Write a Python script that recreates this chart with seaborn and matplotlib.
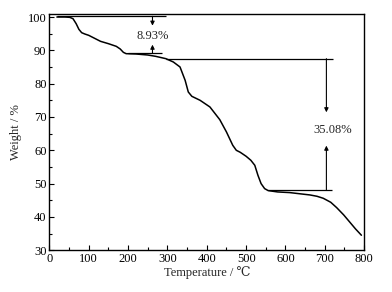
import matplotlib
matplotlib.use("Agg")
import matplotlib.pyplot as plt
import seaborn as sns
import pandas as pd
from matplotlib.ticker import MultipleLocator

temperature = [19, 40, 52, 60, 68, 75, 82, 90, 100, 115, 130, 150, 170, 180, 188, 195,
               220, 250, 270, 296, 315, 332, 345, 353, 362, 383, 408, 433, 450, 466,
               475, 485, 500, 512, 522, 530, 538, 547, 556, 580, 611, 640, 662, 680,
               696, 715, 730, 748, 763, 778, 793]
weight = [100, 100, 99.9, 99.5, 98, 96.3, 95.3, 94.9, 94.5, 93.6, 92.7, 92.0, 91.2, 90.4,
          89.4, 89.0, 88.9, 88.6, 88.2, 87.5, 86.5, 85.0, 81.0, 77.5, 76.2, 75.0, 73.0,
          69.2, 65.5, 61.5, 60.0, 59.4, 58.2, 57.0, 55.5, 52.5, 50.0, 48.5, 47.9, 47.5,
          47.3, 46.9, 46.6, 46.2, 45.6, 44.4, 42.8, 40.6, 38.5, 36.4, 34.5]
loss_labels = ["8.93%", "35.08%"]

sns.set_theme(style="ticks")
plt.rcParams["font.family"] = ["Liberation Serif", "DejaVu Serif"]

fig = plt.figure(figsize=(3.92, 2.92), dpi=100)
ax = fig.add_axes([0.126, 0.143, 0.803, 0.809])

df = pd.DataFrame({"T": temperature, "W": weight})
sns.lineplot(data=df, x="T", y="W", ax=ax, color="black", linewidth=1.1)

ax.set_xlim(0, 800)
ax.set_ylim(30, 100.9)
ax.xaxis.set_major_locator(MultipleLocator(100))
ax.xaxis.set_minor_locator(MultipleLocator(50))
ax.yaxis.set_major_locator(MultipleLocator(10))
ax.yaxis.set_minor_locator(MultipleLocator(5))
ax.tick_params(which="both", direction="in", top=False, right=False,
               labelsize=9, colors="black", pad=2)
ax.tick_params(which="major", length=3.5, width=0.8)
ax.tick_params(which="minor", length=2, width=0.8)
for s in ax.spines.values():
    s.set_linewidth(1.0)
    s.set_color("black")

ax.set_xlabel("Temperature / ℃", fontsize=9, labelpad=1)
ax.set_ylabel("Weight / %", fontsize=9, labelpad=4)

lc = "black"
lw = 0.9
ap = dict(arrowstyle="-|>", color=lc, lw=0.8, mutation_scale=6, shrinkA=0, shrinkB=0)
# first step
ax.hlines(100.2, 19, 296, color=lc, linewidth=lw)
ax.hlines(89.2, 200, 287, color=lc, linewidth=lw)
ax.annotate("", xy=(262, 97.4), xytext=(262, 100.2), arrowprops=ap)
ax.annotate("", xy=(262, 91.7), xytext=(262, 89.2), arrowprops=ap)
ax.text(262, 94.4, loss_labels[0], ha="center", va="center", fontsize=9)

# second step
ax.hlines(87.5, 296, 721, color=lc, linewidth=lw)
ax.hlines(48.1, 556, 719, color=lc, linewidth=lw)
ax.annotate("", xy=(704, 71.4), xytext=(704, 87.5), arrowprops=ap)
ax.annotate("", xy=(704, 61.4), xytext=(704, 48.1), arrowprops=ap)
ax.text(719, 66, loss_labels[1], ha="center", va="center", fontsize=9)

fig.savefig("out.png", dpi=100)
